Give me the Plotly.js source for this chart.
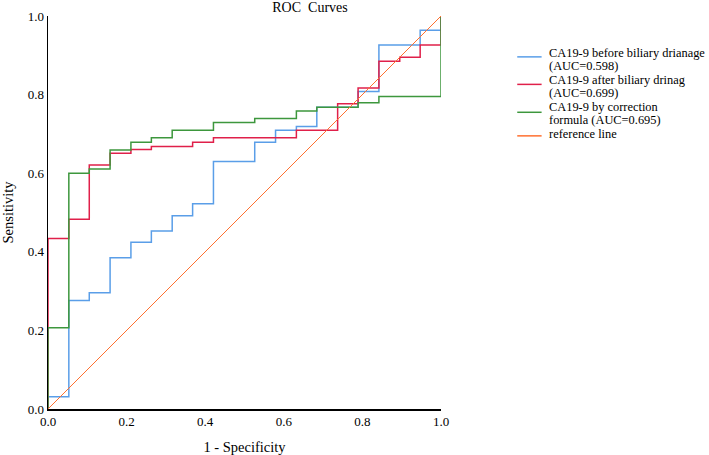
<!DOCTYPE html>
<html>
<head>
<meta charset="utf-8">
<script src="https://cdn.plot.ly/plotly-3.0.1.min.js"></script>
<style>html,body{margin:0;padding:0;background:#fff;}#chart{width:709px;height:455px;}</style>
</head>
<body>
<div id="chart"></div>
<script>
// ROC step curves: false positive rate (1 - specificity) and sensitivity
const blueX  = [0, 0, 0.053, 0.105, 0.158, 0.211, 0.263, 0.316, 0.368, 0.421, 0.526, 0.579, 0.632, 0.684, 0.789, 0.842, 0.947, 1];
const blueY  = [0, 0.031, 0.276, 0.296, 0.385, 0.424, 0.453, 0.492, 0.522, 0.630, 0.679, 0.709, 0.719, 0.768, 0.808, 0.926, 0.964, 1];
const redX   = [0, 0, 0.053, 0.105, 0.158, 0.211, 0.263, 0.368, 0.421, 0.632, 0.737, 0.789, 0.842, 0.895, 0.947, 1];
const redY   = [0, 0.434, 0.483, 0.621, 0.651, 0.660, 0.668, 0.679, 0.690, 0.709, 0.777, 0.817, 0.885, 0.895, 0.926, 1];
const greenX = [0, 0, 0.053, 0.105, 0.158, 0.211, 0.263, 0.316, 0.421, 0.526, 0.632, 0.684, 0.789, 0.842, 1];
const greenY = [0, 0.207, 0.600, 0.611, 0.659, 0.679, 0.690, 0.709, 0.729, 0.739, 0.758, 0.768, 0.779, 0.795, 1];
const refX   = [0, 1];
const refY   = [0, 1];

const seriesNames = [
  ["CA19-9 before biliary drianage", "(AUC=0.598)"],
  ["CA19-9 after biliary drinag", "(AUC=0.699)"],
  ["CA19-9 by correction", "formula (AUC=0.695)"],
  ["reference line"]
];
const tickVals = [0, 0.2, 0.4, 0.6, 0.8, 1.0];
const tickText = ["0.0", "0.2", "0.4", "0.6", "0.8", "1.0"];

const colors = ["#5a9ee8", "#e0204a", "#3d973d", "#ff7030"];
const FONT = "Liberation Serif, Times New Roman, serif";

const mk = (x, y, i, w, shape) => ({
  x: x, y: y, type: "scatter", mode: "lines",
  line: {color: colors[i], width: w, shape: shape},
  name: seriesNames[i].join(" "), showlegend: false, cliponaxis: false, hoverinfo: "skip"
});

const data = [
  mk(blueX, blueY, 0, 1.5, "hv"),
  mk(redX, redY, 1, 1.5, "hv"),
  mk(greenX, greenY, 2, 1.5, "hv"),
  mk(refX, refY, 3, 1, "linear")
];

// legend drawn as real text annotations with swatch lines (tight line spacing as in the reference)
const legendTextY = [[0.907, 0.874], [0.837, 0.804], [0.768, 0.735], [0.699]];
const legendSwatchY = [0.896, 0.826, 0.755, 0.695];
const annotations = [];
const shapes = [];
seriesNames.forEach((lines, i) => {
  lines.forEach((t, j) => {
    annotations.push({
      xref: "paper", yref: "paper", x: 1.272, y: legendTextY[i][j],
      xanchor: "left", yanchor: "middle", showarrow: false, text: t, borderpad: 0,
      font: {family: FONT, size: 12.4, color: "#000"}
    });
  });
  shapes.push({
    type: "line", xref: "paper", yref: "paper",
    x0: 1.194, x1: 1.256, y0: legendSwatchY[i], y1: legendSwatchY[i],
    line: {color: colors[i], width: 1.5}
  });
});

const layout = {
  width: 709, height: 455,
  margin: {l: 48, r: 268, t: 16, b: 46, pad: 0},
  paper_bgcolor: "#fff", plot_bgcolor: "#fff",
  font: {family: FONT, color: "#000", size: 13},
  title: {text: "ROC  Curves", x: (310 - 48) / 393, xref: "paper",
          y: 1 - 7 / 455, yref: "container", xanchor: "center", yanchor: "middle",
          font: {family: FONT, size: 14, color: "#000"}},
  xaxis: {range: [0, 1], tickvals: tickVals, ticktext: tickText, showgrid: false, zeroline: false,
          showline: true, linecolor: "#000", linewidth: 1.5, ticks: "",
          tickfont: {family: FONT, size: 13, color: "#000"},
          title: {text: "1 - Specificity", font: {family: FONT, size: 14.5, color: "#000"}, standoff: 14}},
  yaxis: {range: [0, 1], tickvals: tickVals, ticktext: tickText, showgrid: false, zeroline: false,
          showline: true, linecolor: "#000", linewidth: 1.5, ticks: "",
          tickfont: {family: FONT, size: 13, color: "#000"},
          title: {text: "Sensitivity", font: {family: FONT, size: 14.5, color: "#000"}, standoff: 12}},
  annotations: annotations,
  shapes: shapes,
  showlegend: false
};

Plotly.newPlot("chart", data, layout, {staticPlot: true, displayModeBar: false});
</script>
</body>
</html>
